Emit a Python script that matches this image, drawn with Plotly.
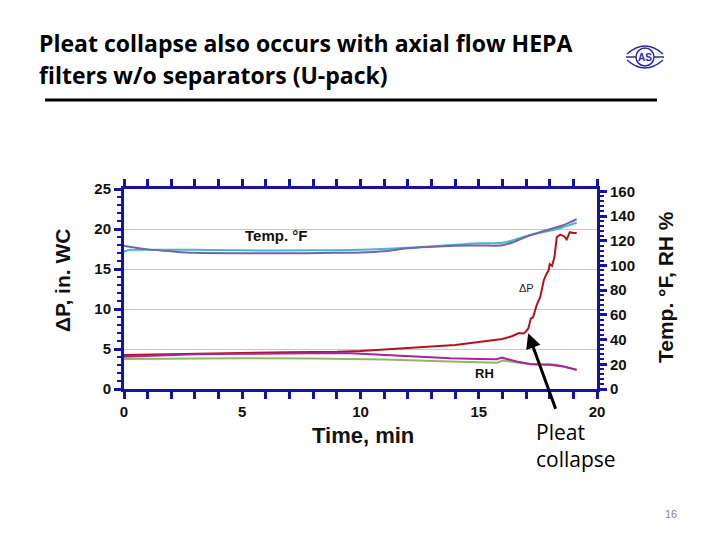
import plotly.graph_objects as go

# ---------------- data ----------------
dp_t = [0, 1, 2, 3, 5, 7, 9, 10, 11, 12, 13, 14, 15, 15.5, 16, 16.4, 16.7, 16.9, 17.0, 17.1,
        17.2, 17.3, 17.45, 17.6, 17.75, 17.85, 17.95, 18.0, 18.1, 18.2, 18.3, 18.45, 18.6,
        18.72, 18.85, 19.0, 19.14]
dp_val = [4.25, 4.3, 4.4, 4.45, 4.55, 4.6, 4.65, 4.75, 4.95, 5.1, 5.3, 5.5, 5.85, 6.0, 6.25,
          6.6, 7.0, 6.95, 7.2, 7.6, 8.8, 9.0, 10.5, 11.5, 13.6, 14.3, 14.8, 15.6, 15.4, 16.5,
          19.0, 19.3, 19.1, 18.7, 19.6, 19.5, 19.5]

tp_t = [0, 0.5, 1, 2, 3, 5, 7, 9, 10, 11, 12, 13, 14, 15, 16, 16.5, 17, 17.5, 18, 18.5, 19, 19.14]
tp_val = [116, 114.4, 113.1, 111.5, 110.3, 110, 109.9, 110.3, 110.5, 111.5, 114, 115.2, 116,
          116.2, 116.5, 119.2, 123.3, 126.5, 129.4, 132.2, 136.3, 137.5]

tc_t = [0, 0.3, 1, 3, 5, 8, 10, 12, 14, 15, 16, 16.5, 17, 17.5, 18, 18.5, 19, 19.14]
tc_val = [111.4, 112.7, 112.7, 112.7, 112.3, 112.3, 112.7, 114.4, 116.8, 118, 118.4, 120.8,
          123.7, 126.1, 128.1, 130.6, 133.8, 134.4]

rhm_t = [0, 1, 3, 5, 7, 9, 9.6, 11, 12.4, 13.8, 15, 15.76, 15.97, 16.6, 17.17, 17.5, 18, 18.6, 19.14]
rhm_val = [26.2, 27.0, 28.2, 28.5, 29.0, 29.2, 29.0, 27.6, 26.3, 24.9, 24.3, 24.1, 25.4, 22.2,
           20.3, 19.8, 19.7, 18.2, 15.6]

rhg_t = [0, 2, 5, 8, 9.6, 11, 13.8, 15, 15.76, 16.04, 16.5, 17.17, 18.0, 18.3, 18.58, 19.14]
rhg_val = [24.3, 24.6, 24.9, 24.8, 24.3, 23.8, 22.2, 21.6, 21.3, 23.0, 21.8, 20.0, 20.0, 19.6,
           18.1, 15.4]

x_ticks = [0, 5, 10, 15, 20]
y_ticks = [0, 5, 10, 15, 20, 25]
y2_ticks = [0, 20, 40, 60, 80, 100, 120, 140, 160]

# ---------------- geometry helpers ----------------
OFF = 8  # page body margin
W, H = 720, 540
L, R, T, B = 124 - OFF, 123 + OFF, 189 - OFF, 151 + OFF
PW, PH = W - L - R, H - T - B


def px(x):
    return (x - OFF - L) / PW


def py(y):
    return (H - B - (y - OFF)) / PH


NAVY = "#1414a0"
fig = go.Figure()

fig.add_trace(go.Scatter(x=tc_t, y=tc_val, yaxis="y2", mode="lines",
                         line=dict(color="#45b6d2", width=2), line_shape="spline"))
fig.add_trace(go.Scatter(x=tp_t, y=tp_val, yaxis="y2", mode="lines",
                         line=dict(color="#7464a8", width=2), line_shape="spline"))
fig.add_trace(go.Scatter(x=rhg_t, y=rhg_val, yaxis="y2", mode="lines",
                         line=dict(color="#93b465", width=2)))
fig.add_trace(go.Scatter(x=rhm_t, y=rhm_val, yaxis="y2", mode="lines",
                         line=dict(color="#a8249a", width=2)))
fig.add_trace(go.Scatter(x=dp_t, y=dp_val, yaxis="y", mode="lines",
                         line=dict(color="#b3121e", width=2)))

tickfont = dict(family="Liberation Sans, Arial", size=15, color="#111", weight="bold")

fig.update_layout(
    width=W, height=H, showlegend=False,
    margin=dict(l=L, r=R, t=T, b=B, pad=0),
    paper_bgcolor="white", plot_bgcolor="white",
    xaxis=dict(range=[0, 20], tickvals=x_ticks, ticks="outside", ticklen=7, tickwidth=3,
               tickcolor=NAVY, showline=True, linecolor=NAVY, linewidth=3, mirror="allticks",
               showgrid=False, zeroline=False, tickfont=tickfont, automargin=False,
               minor=dict(dtick=1, ticks="outside", ticklen=4, tickwidth=3, tickcolor=NAVY)),
    yaxis=dict(range=[0, 25], tickvals=y_ticks, ticks="outside", ticklen=7, tickwidth=3,
               tickcolor=NAVY, showline=True, linecolor=NAVY, linewidth=3,
               showgrid=True, gridcolor="#c8c8c8", gridwidth=1, zeroline=False,
               tickfont=tickfont, automargin=False,
               minor=dict(dtick=1, ticks="outside", ticklen=4, tickwidth=2, tickcolor=NAVY)),
    yaxis2=dict(range=[0, 162], tickvals=y2_ticks, overlaying="y", side="right",
                ticks="outside", ticklen=7, tickwidth=3, tickcolor=NAVY, showline=True,
                linecolor=NAVY, linewidth=3, showgrid=False, zeroline=False,
                tickfont=tickfont, automargin=False,
                minor=dict(dtick=4, ticks="outside", ticklen=4, tickwidth=2, tickcolor=NAVY)),
)

ann = []
title_font = dict(family="Open Sans", size=23, color="black", weight="bold")
ann.append(dict(x=px(37), y=py(43), xref="paper", yref="paper", xanchor="left", yanchor="middle",
                text="Pleat collapse also occurs with axial flow HEPA", showarrow=False, font=title_font))
ann.append(dict(x=px(37), y=py(75), xref="paper", yref="paper", xanchor="left", yanchor="middle",
                text="filters w/o separators (U-pack)", showarrow=False, font=title_font))

lab_font = dict(family="Liberation Sans, Arial", size=21, color="#111", weight="bold")
ann.append(dict(x=px(62), y=py(280), xref="paper", yref="paper", xanchor="center", yanchor="middle",
                text="ΔP, in. WC", textangle=-90, showarrow=False, font=lab_font))
ann.append(dict(x=px(665), y=py(287), xref="paper", yref="paper", xanchor="center", yanchor="middle",
                text="Temp. °F, RH %", textangle=-90, showarrow=False, font=lab_font))
ann.append(dict(x=px(363), y=py(435), xref="paper", yref="paper", xanchor="center", yanchor="middle",
                text="Time, min", showarrow=False,
                font=dict(family="Liberation Sans, Arial", size=22, color="#111", weight="bold")))

ann.append(dict(x=px(276), y=py(235), xref="paper", yref="paper", xanchor="center", yanchor="middle",
                text="Temp. °F", showarrow=False,
                font=dict(family="Liberation Sans, Arial", size=15, color="#111", weight="bold")))
ann.append(dict(x=px(526), y=py(288), xref="paper", yref="paper", xanchor="center", yanchor="middle",
                text="ΔP", showarrow=False,
                font=dict(family="Liberation Sans, Arial", size=11, color="#222")))
ann.append(dict(x=px(484), y=py(373), xref="paper", yref="paper", xanchor="center", yanchor="middle",
                text="RH", showarrow=False,
                font=dict(family="Liberation Sans, Arial", size=13, color="#111", weight="bold")))

# arrow pointing at pleat collapse
ann.append(dict(x=17.09, y=6.96, xref="x", yref="y", ax=28, ay=77, text="", showarrow=True,
                arrowhead=2, arrowsize=1, arrowwidth=3, arrowcolor="black", standoff=0))
pc_font = dict(family="Open Sans", size=21, color="black")
ann.append(dict(x=px(534), y=py(445), xref="paper", yref="paper", xanchor="left", yanchor="middle",
                text="Pleat<br>collapse", align="left", showarrow=False, font=pc_font))

ann.append(dict(x=px(671), y=py(514), xref="paper", yref="paper", xanchor="center", yanchor="middle",
                text="16", showarrow=False,
                font=dict(family="Liberation Sans, Arial", size=11, color="#888")))

# logo text
ann.append(dict(x=px(645), y=py(57), xref="paper", yref="paper", xanchor="center", yanchor="middle",
                text="AS", showarrow=False,
                font=dict(family="Liberation Sans, Arial", size=10, color="#2a2aa8", weight="bold")))

shapes = []
shapes.append(dict(type="line", xref="paper", yref="paper", x0=px(45), x1=px(657), y0=py(100), y1=py(100),
                   line=dict(color="black", width=3)))
LOGO = "#2a2aa8"
shapes.append(dict(type="circle", xref="paper", yref="paper", x0=px(636), x1=px(654), y0=py(66), y1=py(48),
                   line=dict(color=LOGO, width=1.5)))
shapes.append(dict(type="line", xref="paper", yref="paper", x0=px(626), x1=px(636), y0=py(57), y1=py(57),
                   line=dict(color=LOGO, width=1.5)))
shapes.append(dict(type="line", xref="paper", yref="paper", x0=px(654), x1=px(664), y0=py(57), y1=py(57),
                   line=dict(color=LOGO, width=1.5)))

top = f"M {px(627)} {py(54)} Q {px(645)} {py(38)} {px(663)} {py(54)}"
bot = f"M {px(627)} {py(60)} Q {px(645)} {py(76)} {px(663)} {py(60)}"
shapes.append(dict(type="path", xref="paper", yref="paper", path=top, line=dict(color=LOGO, width=1.5)))
shapes.append(dict(type="path", xref="paper", yref="paper", path=bot, line=dict(color=LOGO, width=1.5)))

fig.update_layout(annotations=ann, shapes=shapes)
fig.write_html("out.html")
